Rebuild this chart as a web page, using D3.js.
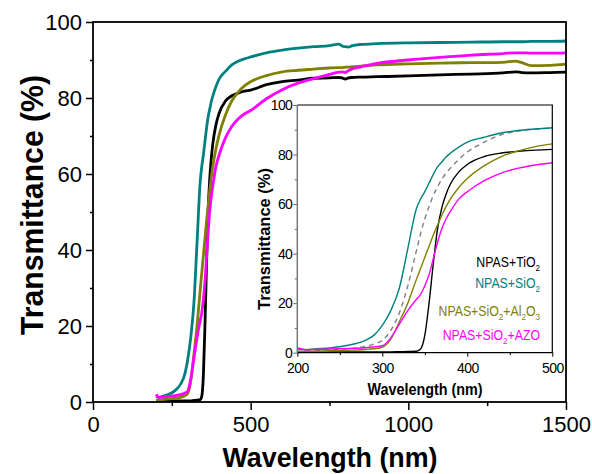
<!DOCTYPE html>
<html>
<head>
<meta charset="utf-8">
<script src="https://cdn.jsdelivr.net/npm/d3@7"></script>
<style>
  body { margin: 0; background: #fff; }
  text { font-family: "Liberation Sans", Arial, sans-serif; }
</style>
</head>
<body>
<div id="chart"></div>
<script>
// wavelengths (nm) of the short range shown in the inset
const wlNear = [200, 210, 220, 240, 260, 280, 290, 300, 310, 320, 330, 340, 345, 350, 355,
                360, 365, 370, 375, 380, 390, 400, 420, 440, 460, 480, 500];
// wavelengths (nm) of the rest of the main curve
const wlFar = [550, 600, 650, 700, 750, 780, 790, 800, 810, 820, 850, 900, 1000, 1100,
               1200, 1300, 1340, 1360, 1390, 1450, 1500];

// transmittance (%)
const tNearTiO2 = [0.3, 0.2, 0.2, 0.3, 0.3, 0.3, 0.3, 0.3, 0.3, 0.4, 0.5, 0.6, 1.5, 7, 20,
                   36, 50, 58.5, 64, 68, 73, 76, 79.2, 80.6, 81.3, 81.8, 82.1];
const tNearSiO2 = [1.5, 1.2, 1.5, 2.0, 3.0, 5.0, 7.0, 11, 17, 26, 42, 58, 62, 65, 68.5,
                   72, 75, 77, 79, 80.5, 83, 85, 87, 88.7, 89.7, 90.3, 90.8];
const tNearAl2O3 = [0.5, 0.5, 0.6, 0.8, 1.0, 1.3, 1.6, 2.2, 5.5, 12.5, 20, 29.5, 34, 38.5, 43,
                    47.5, 51.5, 55.5, 59, 62, 66.7, 70.3, 75.5, 79.2, 81.5, 83.2, 84.3];
const tNearAZO = [2.0, 1.2, 1.3, 1.5, 1.7, 2.0, 2.3, 2.8, 6, 11.5, 17, 21.5, 23.5, 27, 31.5,
                  38, 44.5, 50, 54, 57, 62, 65, 69.5, 72.5, 74.5, 75.8, 76.7];
// grey dashed curve, inset only
const tNearRef = [0.5, 0.7, 0.8, 1.2, 1.7, 2.5, 3.5, 5, 9, 16, 27, 41, 48, 54, 59,
                  63.5, 67, 70, 72.5, 74.5, 78, 81, 85, 88, 89.5, 90.2, 90.7];

const tFarTiO2 = [83.5, 84.3, 84.7, 85.2, 85.3, 85.4, 85.3, 85.0, 85.3, 85.4, 85.5, 85.6, 85.8, 86.1,
                  86.3, 86.6, 86.9, 86.7, 86.6, 86.7, 86.8];
const tFarSiO2 = [91.9, 92.6, 93.1, 93.5, 93.8, 94.2, 93.7, 93.5, 93.4, 93.7, 94.1, 94.3, 94.5, 94.6,
                  94.7, 94.8, 94.8, 94.8, 94.9, 94.9, 95.0];
const tFarAl2O3 = [85.9, 86.9, 87.3, 87.6, 87.9, 88.0, 88.0, 88.1, 88.1, 88.2, 88.4, 88.7, 89.0, 89.2,
                   89.3, 89.4, 89.7, 89.3, 88.5, 88.6, 88.9];
const tFarAZO = [79.8, 82.2, 83.9, 85.1, 86.2, 86.8, 86.9, 86.7, 87.2, 87.6, 88.2, 89.1, 90.0, 90.7,
                 91.3, 91.7, 91.9, 91.9, 91.8, 91.8, 91.9];

const seriesColors = ["#000000", "#008080", "#808000", "#ff00ff"];
// legend labels: [text, isSubscript]
const legendLabels = [
  [["NPAS+TiO", 0], ["2", 1]],
  [["NPAS+SiO", 0], ["2", 1]],
  [["NPAS+SiO", 0], ["2", 1], ["+Al", 0], ["2", 1], ["O", 0], ["3", 1]],
  [["NPAS+SiO", 0], ["2", 1], ["+AZO", 0]]
];

const mainXTicks = [0, 500, 1000, 1500];
const mainXMinor = [250, 750, 1250];
const mainYTicks = [0, 20, 40, 60, 80, 100];
const mainYMinor = [10, 30, 50, 70, 90];
const insetXTicks = [200, 300, 400, 500];
const insetXMinor = [250, 350, 450];
const insetYTicks = [0, 20, 40, 60, 80, 100];
const insetYMinor = [10, 30, 50, 70, 90];

const width = 592, height = 474;

const svg = d3.select("#chart").append("svg")
    .attr("width", width)
    .attr("height", height);

function pairs(wl, t) { return wl.map((w, i) => [w, t[i]]); }

let nearSets = [tNearTiO2, tNearSiO2, tNearAl2O3, tNearAZO];
let farSets = [tFarTiO2, tFarSiO2, tFarAl2O3, tFarAZO];

// ---------- main plot ----------
let x = d3.scaleLinear().domain([0, 1500]).range([93, 566]);
let y = d3.scaleLinear().domain([0, 100]).range([402, 22]);

svg.append("clipPath").attr("id", "mainClip")
  .append("rect").attr("x", 93).attr("y", 22).attr("width", 473).attr("height", 380);

let mainLine = d3.line()
    .x(d => x(d[0]))
    .y(d => y(d[1]))
    .curve(d3.curveMonotoneX);

svg.append("g").attr("clip-path", "url(#mainClip)")
  .selectAll("path")
  .data(nearSets.map((s, i) => pairs(wlNear, s).concat(pairs(wlFar, farSets[i]))))
  .join("path")
    .attr("fill", "none")
    .attr("stroke", (d, i) => seriesColors[i])
    .attr("stroke-width", 2.8)
    .attr("stroke-linejoin", "round")
    .attr("d", mainLine);

function styleAxis(g, size) {
  g.select(".domain").remove();
  g.selectAll("text")
    .attr("font-size", size)
    .attr("font-family", '"Liberation Sans", Arial, sans-serif')
    .attr("fill", "#000");
  g.selectAll("line").attr("stroke", "#000").attr("stroke-width", 1.5);
}

svg.append("g")
    .attr("transform", "translate(0,402)")
    .call(d3.axisBottom(x).tickValues(mainXTicks).tickSize(8).tickPadding(6).tickFormat(d3.format("d")))
    .call(g => styleAxis(g, 22));
svg.append("g")
    .attr("transform", "translate(0,402)")
    .call(d3.axisBottom(x).tickValues(mainXMinor).tickSize(4).tickFormat(""))
    .call(g => styleAxis(g, 22));
svg.append("g")
    .attr("transform", "translate(93,0)")
    .call(d3.axisLeft(y).tickValues(mainYTicks).tickSize(7).tickPadding(4).tickFormat(d3.format("d")))
    .call(g => styleAxis(g, 22));
svg.append("g")
    .attr("transform", "translate(93,0)")
    .call(d3.axisLeft(y).tickValues(mainYMinor).tickSize(3).tickFormat(""))
    .call(g => styleAxis(g, 22));

svg.append("rect")
    .attr("x", 93).attr("y", 22).attr("width", 473).attr("height", 380)
    .attr("fill", "none").attr("stroke", "#000").attr("stroke-width", 1.8);

svg.append("text")
    .attr("x", 330).attr("y", 467)
    .attr("text-anchor", "middle")
    .attr("font-size", 28).attr("font-weight", "bold")
    .attr("textLength", 215).attr("lengthAdjust", "spacingAndGlyphs")
    .text("Wavelength (nm)");

svg.append("text")
    .attr("transform", "translate(43,205) rotate(-90)")
    .attr("text-anchor", "middle")
    .attr("font-size", 31).attr("font-weight", "bold")
    .attr("textLength", 260).attr("lengthAdjust", "spacingAndGlyphs")
    .text("Transmittance (%)");

// ---------- inset ----------
let ix = d3.scaleLinear().domain([200, 500]).range([297.3, 552.3]);
let iy = d3.scaleLinear().domain([0, 100]).range([352.7, 105]);

svg.append("rect")
    .attr("x", 297.3).attr("y", 105).attr("width", 255).attr("height", 247.7)
    .attr("fill", "#fff");

svg.append("clipPath").attr("id", "insetClip")
  .append("rect").attr("x", 297.3).attr("y", 105).attr("width", 255).attr("height", 247.7);

let insetLine = d3.line()
    .x(d => ix(d[0]))
    .y(d => iy(d[1]))
    .curve(d3.curveMonotoneX);

let inset = svg.append("g").attr("clip-path", "url(#insetClip)");

inset.append("path")
    .datum(pairs(wlNear, tNearRef))
    .attr("fill", "none")
    .attr("stroke", "#808080")
    .attr("stroke-width", 1.4)
    .attr("stroke-dasharray", "5,4")
    .attr("d", insetLine);

inset.selectAll(".iseries")
  .data(nearSets.map(s => pairs(wlNear, s)))
  .join("path")
    .attr("class", "iseries")
    .attr("fill", "none")
    .attr("stroke", (d, i) => seriesColors[i])
    .attr("stroke-width", 1.4)
    .attr("d", insetLine);

function styleInsetAxis(g, color) {
  g.select(".domain").remove();
  g.selectAll("text")
    .attr("font-size", 14)
    .attr("letter-spacing", -0.6)
    .attr("font-family", '"Liberation Sans", Arial, sans-serif')
    .attr("fill", "#000");
  g.selectAll("line").attr("stroke", color).attr("stroke-width", 1);
}

svg.append("g")
    .attr("transform", "translate(0,352.7)")
    .call(d3.axisBottom(ix).tickValues(insetXTicks).tickSize(4).tickPadding(6))
    .call(g => styleInsetAxis(g, "#000"));
svg.append("g")
    .attr("transform", "translate(0,352.7)")
    .call(d3.axisBottom(ix).tickValues(insetXMinor).tickSize(2.5).tickFormat(""))
    .call(g => styleInsetAxis(g, "#000"));
svg.append("g")
    .attr("transform", "translate(297.3,0)")
    .call(d3.axisLeft(iy).tickValues(insetYTicks).tickSize(4).tickPadding(1))
    .call(g => styleInsetAxis(g, "#666"));
svg.append("g")
    .attr("transform", "translate(297.3,0)")
    .call(d3.axisLeft(iy).tickValues(insetYMinor).tickSize(2.5).tickFormat(""))
    .call(g => styleInsetAxis(g, "#666"));

// inset frame: left axis grey, the others black
svg.append("path")
    .attr("d", "M297.3,105 H552.3 V352.7 H297.3")
    .attr("fill", "none").attr("stroke", "#000").attr("stroke-width", 1.2);
svg.append("line")
    .attr("x1", 297.3).attr("x2", 297.3).attr("y1", 105).attr("y2", 352.7)
    .attr("stroke", "#777").attr("stroke-width", 1.5);

svg.append("text")
    .attr("x", 425).attr("y", 395)
    .attr("text-anchor", "middle")
    .attr("font-size", 16).attr("font-weight", "bold")
    .attr("textLength", 115).attr("lengthAdjust", "spacingAndGlyphs")
    .text("Wavelength (nm)");

svg.append("text")
    .attr("transform", "translate(270,239) rotate(-90)")
    .attr("text-anchor", "middle")
    .attr("font-size", 16).attr("font-weight", "bold")
    .attr("textLength", 142).attr("lengthAdjust", "spacingAndGlyphs")
    .text("Transmittance (%)");

// legend, right aligned inside the inset
const legendY = [267, 288, 316, 340];
legendLabels.forEach((parts, i) => {
  let t = svg.append("g")
      .attr("transform", `translate(540,${legendY[i]}) scale(0.85,1)`)
    .append("text")
      .attr("text-anchor", "end")
      .attr("font-size", 14.5)
      .attr("fill", seriesColors[i]);
  let shifted = false;
  parts.forEach(p => {
    let span = t.append("tspan").text(p[0]);
    if (p[1]) {
      span.attr("font-size", 9.5).attr("dy", shifted ? 0 : 4);
      shifted = true;
    } else {
      span.attr("dy", shifted ? -4 : 0);
      shifted = false;
    }
  });
});
</script>
</body>
</html>
